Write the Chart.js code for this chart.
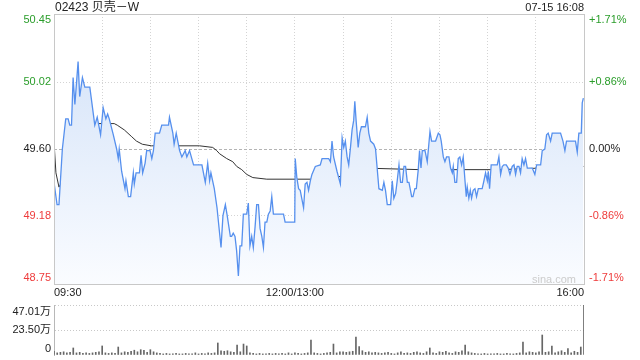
<!DOCTYPE html>
<html>
<head>
<meta charset="utf-8">
<script src="https://cdn.jsdelivr.net/npm/chart.js@4/dist/chart.umd.min.js"></script>
<style>
body { margin: 0; background: #fff; }
#wrap { position: relative; width: 640px; height: 360px; overflow: hidden; font-family: "Liberation Sans", Arial, "Noto Sans CJK SC", sans-serif; }
#price { position: absolute; left: 0; top: 0; }
#vol { position: absolute; left: 0; top: 300px; }
.txt { position: absolute; line-height: 14px; white-space: nowrap; color: #222; }
#title { left: 55px; top: 0; font-size: 12px; }
#stamp { right: 56px; top: 0; font-size: 11px; }
#sina { left: 532px; top: 272px; font-size: 11px; color: #ccc; }
</style>
</head>
<body>
<div id="wrap">
  <canvas id="price" width="640" height="300"></canvas>
  <canvas id="vol" width="640" height="60"></canvas>
  <div id="title" class="txt">02423 贝壳－W</div>
  <div id="stamp" class="txt">07-15 16:08</div>
  <div id="sina" class="txt">sina.com</div>
</div>
<script>
// minutes since 09:30 (morning 0-150, afternoon 150-330)
var prevClose = 49.60
var priceTicks = [50.45, 50.02, 49.60, 49.18, 48.75]
var pctLabels = ['+1.71%', '+0.86%', '0.00%', '-0.86%', '-1.71%']
var gridMinutes = [0, 30, 60, 90, 120, 150, 180, 210, 240, 270, 300, 330]
var timeTicks = [0, 150, 330]
var timeLabels = ['09:30', '12:00/13:00', '16:00']

var priceMin = [0, 1.9, 3.1, 5.2, 7.3, 8.8, 9.8, 10.9, 11.9, 13, 15, 16, 17.7, 19.2, 22.3, 25.4, 26.9, 29, 30.6, 32.3,
  33.4, 34.4, 36.9, 39, 40, 40.6, 42.1, 44.2, 44.8, 46.3, 47.7, 49.4, 50, 51.1, 53.2, 54.2, 55.2, 56.7, 57.7, 59.8,
  60.9, 61.9, 63, 65.7, 67.1, 71.3, 71.9, 74, 74.8, 76.1, 78.2, 79.6, 81.7, 82.7, 84.4, 86.9, 92.1, 94.2, 95.7, 96.9,
  97.7, 99.8, 101.5, 103.2, 104, 105.2, 106.7, 107.7, 109.8, 110.6, 111.6, 112.7, 113.7, 114.8, 115.8, 116.9, 117.9, 120, 121, 122,
  123.1, 124.1, 125.2, 126.2, 127.3, 128.3, 129.4, 130.4, 131.4, 132.5, 133.5, 134.6, 135.6, 136.6, 142.9, 143.9, 149.9,
  150.2, 151.2, 152.3, 153.3, 155.4, 156.4, 157.5, 158.5, 159.6, 160.6, 162.7, 165.8, 166.9, 171, 172.1, 173.1, 174.1, 176.2, 178.3,
  179.4, 180.4, 181.4, 182.5, 183.5, 184.6, 185.6, 186.6, 187.3, 188.1, 189.4, 190.4, 191.4, 193.9, 195, 196, 197.1, 199.1, 200.2, 202.3,
  204.4, 205.4, 206.4, 207.5, 209.6, 210.6, 211.6, 212.7, 213.7, 214.8, 215.8, 216.9, 217.9, 218.9, 220, 221, 222.7, 223.5, 224.7, 225.6,
  226.8, 227.6, 228.5, 229.3, 231, 232.4, 234.1, 235.1, 237.6, 239.3, 240.3, 241.1, 242.4, 243.4, 244.4, 245.9, 246.9, 248, 248.6, 249.6,
  250.7, 251.7, 252.7, 253.8, 254.8, 255.9, 256.7, 257.3, 258.3, 259.2, 260, 261, 262.1, 263.1, 264.2, 266.6, 267.7, 268.7, 269.8, 270.4,
  271.2, 272.2, 276, 277, 278.1, 279.1, 280.1, 281.6, 282.8, 283.9, 285.3, 286.4, 287.4, 288.4, 289.5, 290.5, 291.5, 292.6, 293.6, 294.7,
  297.8, 299.4, 300.5, 303, 304, 305.6, 306.7, 307.7, 309.2, 310.2, 315.4, 316.9, 318.1, 319.1, 324.7, 325.8, 326.8, 328.3, 328.9, 329.6]
var priceVal = [49.39, 49.25, 49.25, 49.60, 49.79, 49.79, 49.75, 49.75, 50.05, 49.88, 50.15, 49.93, 50.05, 49.99, 49.99, 49.75, 49.80, 49.69, 49.86, 49.79,
  49.82, 49.79, 49.69, 49.60, 49.54, 49.60, 49.46, 49.35, 49.40, 49.30, 49.30, 49.45, 49.38, 49.45, 49.45, 49.56, 49.45, 49.51, 49.59, 49.59,
  49.54, 49.59, 49.70, 49.70, 49.75, 49.75, 49.80, 49.70, 49.63, 49.70, 49.59, 49.55, 49.59, 49.55, 49.59, 49.50, 49.50, 49.39, 49.51, 49.40,
  49.45, 49.35, 49.23, 49.06, 48.98, 49.18, 49.25, 49.19, 49.05, 49.05, 49.07, 49.05, 48.96, 48.80, 48.99, 48.99, 49.19, 49.19, 49.26, 48.99,
  49.05, 48.98, 49.11, 49.25, 49.25, 49.10, 49.05, 48.98, 49.14, 49.14, 49.19, 49.21, 49.30, 49.19, 49.19, 49.14, 49.14,
  49.54, 49.42, 49.35, 49.34, 49.23, 49.38, 49.39, 49.34, 49.40, 49.44, 49.49, 49.50, 49.54, 49.54, 49.52, 49.65, 49.55, 49.46, 49.38,
  49.67, 49.61, 49.65, 49.55, 49.50, 49.61, 49.72, 49.78, 49.90, 49.78, 49.61, 49.70, 49.74, 49.74, 49.80, 49.70, 49.65, 49.63, 49.60, 49.35,
  49.34, 49.39, 49.34, 49.25, 49.25, 49.40, 49.29, 49.32, 49.40, 49.50, 49.39, 49.39, 49.49, 49.49, 49.39, 49.39, 49.30, 49.30, 49.35, 49.35,
  49.47, 49.59, 49.48, 49.59, 49.59, 49.52, 49.71, 49.65, 49.65, 49.70, 49.69, 49.65, 49.55, 49.52, 49.55, 49.55, 49.48, 49.45, 49.49, 49.39,
  49.39, 49.54, 49.55, 49.50, 49.55, 49.40, 49.30, 49.36, 49.29, 49.34, 49.29, 49.34, 49.35, 49.30, 49.35, 49.35, 49.40, 49.45, 49.40, 49.46,
  49.35, 49.50, 49.50, 49.55, 49.44, 49.49, 49.50, 49.50, 49.48, 49.44, 49.49, 49.50, 49.44, 49.49, 49.49, 49.45, 49.54, 49.50, 49.54, 49.48,
  49.48, 49.44, 49.50, 49.50, 49.59, 49.60, 49.69, 49.70, 49.65, 49.70, 49.70, 49.65, 49.59, 49.65, 49.65, 49.58, 49.70, 49.70, 49.89, 49.92]

var avgMin = [0, 1.2, 3.1, 6.3, 8.1, 11.3, 14.4, 20, 23.1, 37.5, 39.4, 43.8, 48.1, 51.3, 55, 60.6, 90.6, 98.8, 101.3, 103.1,
  107.5, 111.3, 113.8, 116.9, 120, 123.8, 132.5, 148.8, 171.8, 173.7, 185.5, 188.6, 192.4, 227.8, 277.6, 302.5, 329.6]
var avgVal = [49.645, 49.45, 49.36, 49.42, 49.49, 49.64, 49.68, 49.73, 49.76, 49.76, 49.75, 49.72, 49.68, 49.65, 49.63, 49.62, 49.62, 49.61, 49.59, 49.57,
  49.54, 49.52, 49.49, 49.47, 49.44, 49.42, 49.41, 49.41, 49.41, 49.42, 49.44, 49.47, 49.48, 49.47, 49.47, 49.48, 49.49]

// volume per 2 minutes, in 万 shares
var volTicks = [47.01, 23.50, 0]
var volLabels = ['47.01万', '23.50万', '0']
var volumes = [3.5, 2, 2.5, 3, 2, 2.5, 6.6, 2, 2.5, 1.5,
  2, 1.5, 2, 2.5, 3, 8.5, 2, 1.5, 2, 1.5,
  7.5, 2, 3, 2.5, 3.5, 4.5, 3, 5, 4.5, 2.5,
  5, 3, 2, 1.5, 1, 1.5, 1, 1, 1.5, 1,
  1, 1.5, 1, 1, 2, 1, 1.5, 1, 2, 1.5,
  2, 11.3, 4, 3.5, 4, 3, 2.5, 9.4, 3, 10.3,
  8.5, 2, 1.5, 1, 1.5, 1, 1, 1.5, 1, 1.5,
  1, 1.5, 1, 2, 1, 2, 1.5, 1, 1.5, 2,
  14.1, 2, 1.5, 1, 1.5, 2, 2.5, 10.3, 2, 3,
  3, 2.5, 3, 3.5, 16.9, 8, 4, 2.5, 3, 2,
  2.5, 2, 1.5, 2, 2.5, 1.5, 1, 2, 3, 1.5,
  2, 1.5, 2.5, 3, 2, 1.5, 3, 6.6, 2, 1.5,
  3, 2.5, 3.5, 2, 1.5, 3, 2.5, 4, 9.4, 3,
  2, 1.5, 1, 1, 1.5, 1, 1, 1, 1.5, 1,
  1, 1.5, 1, 1, 1.5, 2, 12.2, 2, 3, 2.5,
  2, 3, 18.8, 2.5, 3, 8.5, 2, 3, 4, 2.5,
  6, 2, 3.5, 2.5, 7.5, 47.01]

var upColor = '#2a9d2a'
var downColor = '#ee3b3b'
var labelFont = '11px "Liberation Sans", Arial, "Noto Sans CJK SC", sans-serif'

function fixedTicks(list) {
  return function (scale) { scale.ticks = list.map(function (v) { return { value: v } }) }
}

var priceText = {
  id: 'priceText',
  beforeDatasetsDraw(chart) {
    var ctx = chart.ctx, a = chart.chartArea
    var py = Math.round(chart.scales.y.getPixelForValue(prevClose)) + 0.5
    ctx.save()
    ctx.strokeStyle = '#b4b4b4'
    ctx.setLineDash([3, 2])
    ctx.beginPath()
    ctx.moveTo(a.left, py)
    ctx.lineTo(a.right, py)
    ctx.stroke()
    ctx.restore()
  },
  afterDraw(chart) {
    var ctx = chart.ctx, a = chart.chartArea, x = chart.scales.x, y = chart.scales.y
    ctx.save()
    ctx.strokeStyle = '#c8c8c8'
    ctx.lineWidth = 1
    ctx.strokeRect(Math.round(a.left) + 0.5, Math.round(a.top) + 0.5, Math.round(a.right - a.left), Math.round(a.bottom - a.top))
    ctx.font = labelFont
    ctx.textBaseline = 'middle'
    priceTicks.forEach(function (v, i) {
      var py = Math.min(Math.max(y.getPixelForValue(v), a.top + 6), a.bottom - 6)
      ctx.fillStyle = v > prevClose ? upColor : (v < prevClose ? downColor : '#222')
      ctx.textAlign = 'right'
      ctx.fillText(v.toFixed(2), a.left - 3, py)
      ctx.textAlign = 'left'
      ctx.fillText(pctLabels[i], a.right + 5, py)
    })
    ctx.fillStyle = '#222'
    var aligns = ['left', 'center', 'right']
    timeTicks.forEach(function (t, i) {
      ctx.textAlign = aligns[i]
      ctx.fillText(timeLabels[i], x.getPixelForValue(t), a.bottom + 9)
    })
    ctx.restore()
  }
}

var volText = {
  id: 'volText',
  afterDraw(chart) {
    var ctx = chart.ctx, a = chart.chartArea, y = chart.scales.y
    ctx.save()
    ctx.font = labelFont
    ctx.textBaseline = 'middle'
    ctx.textAlign = 'right'
    ctx.fillStyle = '#222'
    volTicks.forEach(function (v, i) {
      var py = Math.min(Math.max(y.getPixelForValue(v), a.top + 7), a.bottom - 6)
      ctx.fillText(volLabels[i], a.left - 3, py)
    })
    ctx.restore()
  }
}

function pts(xs, ys) {
  return xs.map(function (m, i) { return { x: m, y: ys[i] } })
}

new Chart(document.getElementById('price'), {
  type: 'line',
  data: {
    datasets: [{
      data: pts(priceMin, priceVal),
      borderColor: '#5690ee',
      borderWidth: 1.3,
      pointRadius: 0,
      tension: 0,
      fill: 'start',
      backgroundColor: function (c) {
        var a = c.chart.chartArea
        if (!a) return 'rgba(214,228,248,0.8)'
        var g = c.chart.ctx.createLinearGradient(0, a.top, 0, a.bottom)
        g.addColorStop(0, '#d0e0f8')
        g.addColorStop(1, '#fafcff')
        return g
      }
    }, {
      data: pts(avgMin, avgVal),
      borderColor: '#333',
      borderWidth: 1,
      pointRadius: 0,
      tension: 0,
      fill: false
    }]
  },
  options: {
    responsive: false,
    animation: false,
    layout: { padding: { top: 14, right: 56, left: 0, bottom: 0 } },
    plugins: { legend: { display: false }, tooltip: { enabled: false } },
    scales: {
      x: {
        type: 'linear', min: 0, max: 330,
        afterBuildTicks: fixedTicks(gridMinutes),
        afterFit: function (s) { s.height = 16 },
        ticks: { display: false },
        grid: { color: '#d4d4d4', drawTicks: false },
        border: { display: false, dash: [1, 2] }
      },
      y: {
        min: 48.75, max: 50.45,
        afterBuildTicks: fixedTicks(priceTicks),
        afterFit: function (s) { s.width = 54 },
        ticks: { display: false },
        grid: {
          drawTicks: false,
          color: function (c) { return c.tick && Math.abs(c.tick.value - prevClose) < 0.001 ? 'rgba(0,0,0,0)' : '#d4d4d4' }
        },
        border: { display: false, dash: [1, 2] }
      }
    }
  },
  plugins: [priceText]
})

new Chart(document.getElementById('vol'), {
  type: 'bar',
  data: {
    datasets: [{
      data: pts(volumes.map(function (_, i) { return i * 2 }), volumes),
      backgroundColor: '#666',
      barThickness: 1
    }]
  },
  options: {
    responsive: false,
    animation: false,
    layout: { padding: { top: 5, right: 56, left: 0, bottom: 5 } },
    plugins: { legend: { display: false }, tooltip: { enabled: false } },
    scales: {
      x: { type: 'linear', min: 0, max: 330, offset: false, display: false },
      y: {
        min: 0, max: 47.01,
        afterBuildTicks: fixedTicks(volTicks),
        afterFit: function (s) { s.width = 54 },
        ticks: { display: false },
        grid: {
          drawTicks: false,
          color: function (c) { return c.tick && c.tick.value === 0 ? 'rgba(0,0,0,0)' : '#c8c8c8' }
        },
        border: { display: true, color: '#b8b8b8', dash: [1, 2] }
      }
    }
  },
  plugins: [volText]
})
</script>
</body>
</html>
